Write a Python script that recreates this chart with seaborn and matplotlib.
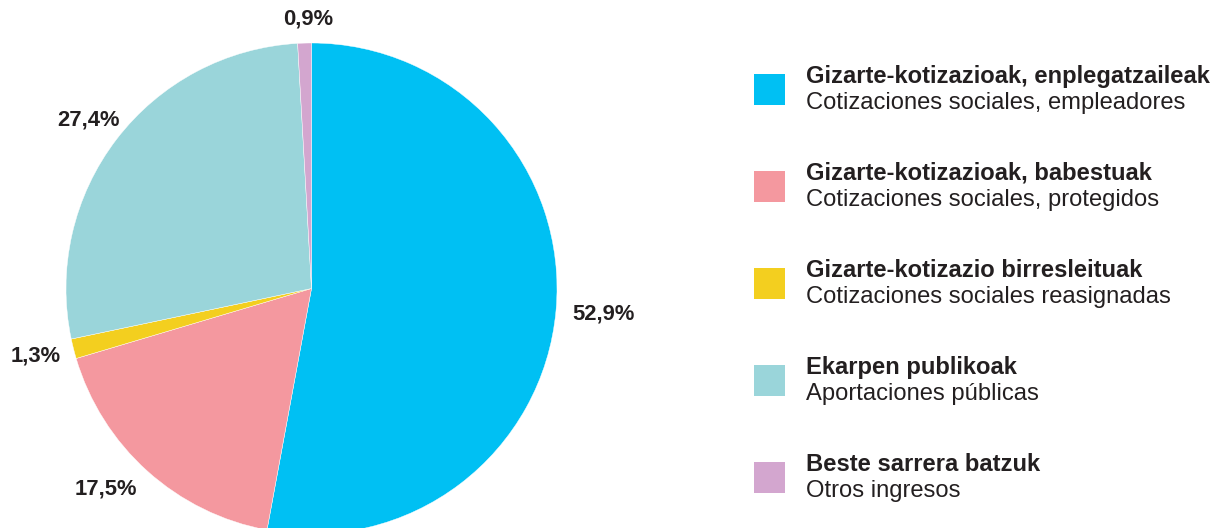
import matplotlib
matplotlib.use("Agg")
import matplotlib.pyplot as plt
import seaborn as sns
import numpy as np
from matplotlib.patches import Rectangle

sns.set_theme(style="white")
plt.rcParams['font.family'] = ['Liberation Sans', 'DejaVu Sans']

# Data
labels_eu = ["Gizarte-kotizazioak, enplegatzaileak", "Gizarte-kotizazioak, babestuak",
             "Gizarte-kotizazio birresleituak", "Ekarpen publikoak", "Beste sarrera batzuk"]
labels_es = ["Cotizaciones sociales, empleadores", "Cotizaciones sociales, protegidos",
             "Cotizaciones sociales reasignadas", "Aportaciones públicas", "Otros ingresos"]
values = [52.9, 17.5, 1.3, 27.4, 0.9]
colors = sns.color_palette(["#00C0F3", "#F4989F", "#F3CF1F", "#9AD5DA", "#D3A6CF"])

W, H = 1223, 528
fig = plt.figure(figsize=(W / 100, H / 100), dpi=100)
ax = fig.add_axes([0, 0, 1, 1])

cx, cy, R = 311.5, H - 288.5, 245.5
txtc = "#231F20"

wedges, texts, autotexts = ax.pie(
    values, colors=colors, startangle=90, counterclock=False,
    center=(cx, cy), radius=R,
    autopct=lambda p: f"{p:.1f}%".replace(".", ","), pctdistance=1.17,
    wedgeprops=dict(edgecolor="white", linewidth=0.3),
    textprops=dict(fontsize=15.8, fontweight="bold", color=txtc),
)
# label placement (pixel layout, top-left origin)
label_xy = [(604, 314), (105.5, 489), (36, 356), (88.5, 120), (308.5, 19.5)]
for t, (lx, ly) in zip(autotexts, label_xy):
    t.set_position((lx, H - ly))
    t.set_ha("center")
    t.set_va("center")

ax.set_xlim(0, W)
ax.set_ylim(0, H)
ax.set_aspect("equal")
ax.axis("off")

# Legend
y0 = 89.5
step = 97
fs = 17.1
for i, (eu, es, c) in enumerate(zip(labels_eu, labels_es, colors)):
    yc = y0 + i * step
    ax.add_patch(Rectangle((754, H - (yc + 15.5)), 31, 31, facecolor=c, edgecolor="none"))
    ax.text(806, H - (yc - 6.75), eu, fontsize=fs, fontweight="bold", color=txtc,
            ha="left", va="baseline")
    ax.text(806, H - (yc + 19.25), es, fontsize=fs, color=txtc,
            ha="left", va="baseline")

fig.savefig("out.png", dpi=100)
